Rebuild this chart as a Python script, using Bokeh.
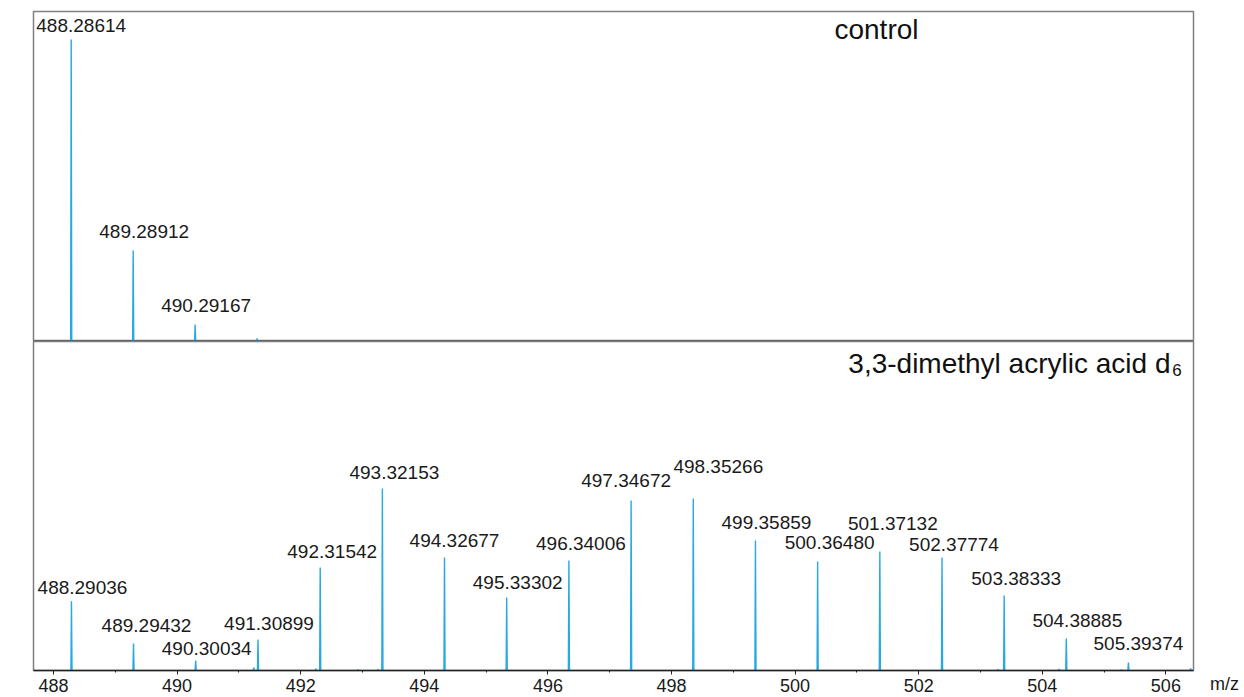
from bokeh.plotting import figure
from bokeh.layouts import column, row
from bokeh.models import Range1d, ColumnDataSource, SingleIntervalTicker, Label, Span, Div
from bokeh.core.properties import value
from bokeh.embed import file_html
from bokeh.resources import INLINE

# ---------------- data ----------------
control_mz = [488.28614, 489.28912, 490.29167, 491.2945]
control_int = [100.0, 30.1, 5.6, 1.0]
control_labels = ["488.28614", "489.28912", "490.29167", ""]

d6_mz = [488.29036, 489.29432, 490.30034, 491.2400, 491.30899, 492.2450, 492.31542,
         492.9300, 493.2500, 493.32153, 494.32677, 495.33302, 496.34006, 497.34672,
         498.35266, 499.35859, 500.36480, 501.37132, 502.37774, 503.2800, 503.38333,
         504.2700, 504.38885, 505.2800, 505.39374, 506.4000]
d6_int = [38.1, 14.8, 5.5, 1.6, 17.0, 1.0, 56.6,
          0.4, 0.6, 100.0, 62.1, 40.1, 60.4, 93.4,
          94.5, 71.4, 59.9, 65.4, 62.1, 0.6, 41.2,
          0.8, 17.6, 0.5, 4.4, 1.1]
d6_labels = ["488.29036", "489.29432", "490.30034", "", "491.30899", "", "492.31542",
             "", "", "493.32153", "494.32677", "495.33302", "496.34006", "497.34672",
             "498.35266", "499.35859", "500.36480", "501.37132", "502.37774", "", "503.38333",
             "", "504.38885", "", "505.39374", ""]

x_ticks_interval = 2
title_top = "control"
title_bottom = "3,3-dimethyl acrylic acid d"
title_bottom_sub = "6"
x_unit = "m/z"

# ---------------- layout / style ----------------
X0, X1 = 487.676, 506.447
TOP_MAX = 109.3
BOT_MAX = 180.8
PEAK_HALF = 0.009
LINE_COLOR = "#29a9e1"
TEXT_COLOR = "#1a1a1a"
FONT = "Liberation Sans"
FRAME_COLOR = "#7f7f7f"
TEXT_SHIFT = 7  # px, compensates baseline rendering

# label offsets (px): dx horizontal, gap above peak top
ctrl_dx = [10, 11, 11, 0]
ctrl_gap = [7, 12, 12, 0]
d6_dx = [11, 13, 11, 0, 11, 0, 12, 0, 0, 12, 10, 11, 12, -5, 25, 11, 12, 13, 12, 0, 12, 0, 11, 0, 10, 0]
d6_gap = [7, 11, 5, 0, 9, 0, 9, 0, 0, 9, 10, 8, 10, 13, 25, 11, 12, 21, 6, 0, 10, 0, 11, 0, 12, 0]


def peaks_xy(mz, inten):
    xs, ys = [], []
    for m, h in zip(mz, inten):
        xs.append([m - PEAK_HALF, m, m + PEAK_HALF])
        ys.append([0.0, h, 0.0])
    return xs, ys


def label_source(mz, inten, labels, dx, gap):
    rows = [(m, h, t, a, -(g + TEXT_SHIFT)) for m, h, t, a, g in zip(mz, inten, labels, dx, gap) if t]
    return ColumnDataSource(dict(
        x=[r[0] for r in rows], y=[r[1] for r in rows], text=[r[2] for r in rows],
        dx=[r[3] for r in rows], dy=[r[4] for r in rows]))


x_range = Range1d(X0, X1)

# ---------------- top panel ----------------
top = figure(frame_width=1160, frame_height=330, x_range=x_range, y_range=Range1d(0, TOP_MAX),
             x_axis_location=None, y_axis_location=None, toolbar_location=None,
             output_backend="svg", min_border_left=33, min_border_right=51,
             min_border_top=11, min_border_bottom=0)
top.grid.visible = False
top.outline_line_color = FRAME_COLOR
top.outline_line_width = 1.5
top.border_fill_color = "white"

xs, ys = peaks_xy(control_mz, control_int)
top.multi_line(xs, ys, line_color=LINE_COLOR, line_width=1.4)
src = label_source(control_mz, control_int, control_labels, ctrl_dx, ctrl_gap)
top.text("x", "y", text="text", source=src, x_offset="dx", y_offset="dy",
         text_align="center", text_baseline="alphabetic", text_font=value(FONT),
         text_font_size="19px", text_color=TEXT_COLOR)
top.add_layout(Label(x=501.317, y=103.3, text=title_top, text_align="center",
                     text_baseline="alphabetic", text_font=FONT, text_font_size="28px",
                     text_color="#111111"))
top.add_layout(Span(location=0, dimension="width", line_color="#111111", line_width=1.6, level="overlay"))

# ---------------- bottom panel ----------------
bot = figure(frame_width=1160, frame_height=329, x_range=x_range, y_range=Range1d(0, BOT_MAX),
             y_axis_location=None, toolbar_location=None, output_backend="svg",
             min_border_left=33, min_border_right=4, min_border_top=0, min_border_bottom=27)
bot.grid.visible = False
bot.outline_line_color = FRAME_COLOR
bot.outline_line_width = 1.5
bot.border_fill_color = "white"

xs, ys = peaks_xy(d6_mz, d6_int)
bot.multi_line(xs, ys, line_color=LINE_COLOR, line_width=1.4)
src = label_source(d6_mz, d6_int, d6_labels, d6_dx, d6_gap)
bot.text("x", "y", text="text", source=src, x_offset="dx", y_offset="dy",
         text_align="center", text_baseline="alphabetic", text_font=value(FONT),
         text_font_size="19px", text_color=TEXT_COLOR)
bot.add_layout(Label(x=506.074, y=168.7, text=title_bottom, text_align="right",
                     text_baseline="alphabetic", text_font=FONT, text_font_size="28px",
                     text_color="#111111"))
bot.add_layout(Label(x=506.105, y=165.0, text=title_bottom_sub, text_align="left",
                     text_baseline="alphabetic", text_font=FONT, text_font_size="17px",
                     text_color="#111111"))

ax = bot.xaxis[0]
ax.ticker = SingleIntervalTicker(interval=x_ticks_interval, num_minor_ticks=2)
ax.axis_line_color = "#222222"
ax.axis_line_width = 1.5
ax.major_tick_line_color = "#222222"
ax.minor_tick_line_color = "#222222"
ax.major_tick_in = 0
ax.major_tick_out = 4
ax.minor_tick_in = 0
ax.minor_tick_out = 2
ax.major_label_standoff = 4
ax.major_label_text_font = FONT
ax.major_label_text_font_size = "18px"
ax.major_label_text_color = TEXT_COLOR

unit_div = Div(text=x_unit, width=47, height=356, margin=0,
               styles={"padding-top": "334px", "padding-left": "13px", "font-size": "18px",
                       "line-height": "18px", "font-family": FONT, "color": TEXT_COLOR,
                       "box-sizing": "border-box"})

layout = column(top, row(bot, unit_div, spacing=0), spacing=0)
open("out.html", "w").write(file_html(layout, INLINE))
